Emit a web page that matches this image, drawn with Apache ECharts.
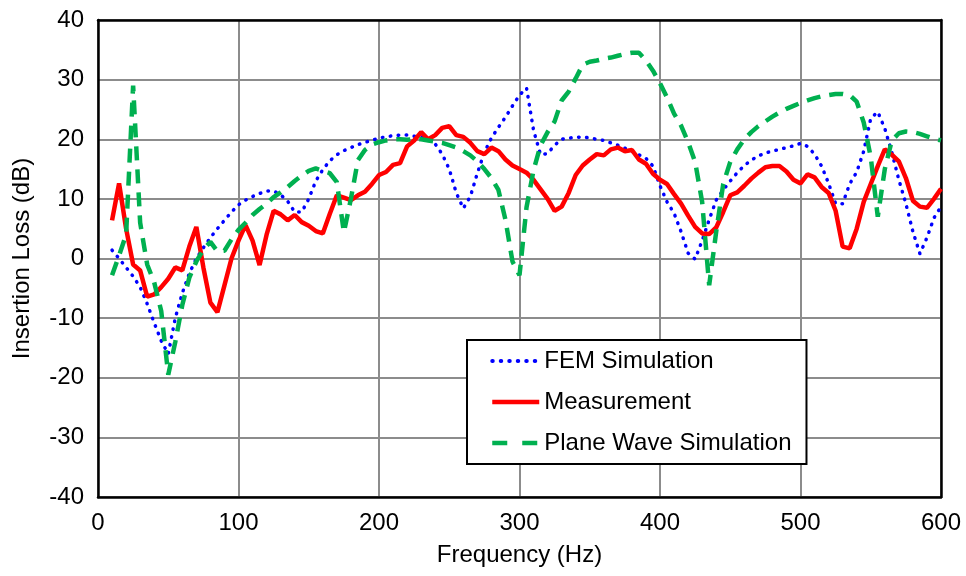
<!DOCTYPE html>
<html>
<head>
<meta charset="utf-8">
<script src="https://cdn.jsdelivr.net/npm/echarts@6/dist/echarts.min.js"></script>
<style>
  html, body { margin: 0; padding: 0; background: #fff; }
  #chart { width: 966px; height: 576px; }
</style>
</head>
<body>
<div id="chart"></div>
<script>
// frequency points (Hz)
var freqs = [10, 15, 20, 25, 30, 35, 40, 45, 50, 55,
    60, 65, 70, 75, 80, 85, 90, 95, 100, 105,
    110, 115, 120, 125, 130, 135, 140, 145, 150, 155,
    160, 165, 170, 175, 180, 185, 190, 195, 200, 205,
    210, 215, 220, 225, 230, 235, 240, 245, 250, 255,
    260, 265, 270, 275, 280, 285, 290, 295, 300, 305,
    310, 315, 320, 325, 330, 335, 340, 345, 350, 355,
    360, 365, 370, 375, 380, 385, 390, 395, 400, 405,
    410, 415, 420, 425, 430, 435, 440, 445, 450, 455,
    460, 465, 470, 475, 480, 485, 490, 495, 500, 505,
    510, 515, 520, 525, 530, 535, 540, 545, 550, 555,
    560, 565, 570, 575, 580, 585, 590, 595, 600];

// FEM simulation (dB)
var femData = [1.4, 0, -1.5, -3, -4.8, -7.6, -10.8, -13.8, -16, -10,
    -5.8, -2.5, 0, 1.8, 3.5, 5, 6.4, 7.8, 9, 9.8,
    10.4, 10.9, 11.3, 11.3, 10.7, 9.6, 7.8, 7.8, 10, 13,
    14.9, 16.4, 17.4, 18.1, 18.6, 19.1, 19.5, 19.8, 20.2, 20.4,
    20.6, 20.7, 20.7, 20.5, 20.4, 20.1, 19.2, 17.5, 15, 11,
    8.4, 10.4, 14.3, 17.8, 20.2, 22, 23.7, 25.6, 27.4, 28.6,
    21.5, 17.4, 17.6, 19, 20, 20.2, 20.3, 20.4, 20.2, 20,
    19.8, 19.4, 19, 18.5, 18, 17.4, 16.8, 15.5, 12.2, 9.5,
    7.6, 4.5, 0.9, -0.1, 3, 6.5, 9.8, 11.5, 13, 14.4,
    15.6, 16.5, 17.2, 17.7, 18, 18.3, 18.6, 18.9, 19.3, 18.8,
    17.5, 15.5, 12.6, 9.2, 9.2, 12.5, 14.5, 18, 23.5, 24.6,
    21.8, 17.8, 13.2, 9.2, 4.5, 0.8, 3.5, 6.8, 8.7];

// measurement (dB)
var measData = [6.4, 12.6, 5, -1, -2, -6.4, -6, -4.8, -3.4, -1.5,
    -2, 2, 5.3, -1.5, -7.4, -9, -4.5, 0, 3, 5.6,
    3, -1.1, 4, 8, 7.4, 6.4, 7.3, 6.1, 5.5, 4.6,
    4.2, 7.5, 10.6, 10.2, 9.8, 10.6, 11.2, 12.5, 14, 14.5,
    15.7, 16, 18.8, 19.8, 21.2, 20, 20.7, 21.9, 22.2, 20.7,
    20.4, 19.4, 18, 17.5, 18.6, 18, 16.6, 15.6, 15, 14.4,
    13.2, 11.6, 10, 8, 8.7, 11, 14, 15.6, 16.6, 17.5,
    17.3, 18.3, 18.6, 18, 18.2, 16.6, 15.9, 14.2, 13.2, 12.5,
    10.8, 9.2, 7.2, 5.3, 4.2, 4.1, 5.2, 7.8, 10.6, 11.1,
    12.2, 13.4, 14.4, 15.3, 15.5, 15.5, 14.6, 13.2, 12.6, 14.1,
    13.6, 12, 11, 8, 2, 1.7, 5, 9.5, 12.5, 15.5,
    18.3, 17.4, 16.3, 13.5, 9.7, 8.7, 8.5, 10, 11.7];

// plane wave simulation (dB)
var pwData = [-2.8, 0.5, 4, 29, 6, -1, -4, -8.8, -19.5, -14,
    -7.8, -3.2, -0.5, 1.5, 2.8, 1.2, 1.3, 3.2, 4.8, 6,
    7.3, 8.3, 9.2, 10.3, 11.1, 12, 13, 13.9, 14.7, 15.1,
    14.7, 14.3, 12.8, 4.4, 10, 16.5, 18.2, 19.1, 19.5, 19.8,
    20, 20, 19.9, 20, 20, 19.8, 19.6, 19.4, 19, 18.6,
    18, 17.3, 16.3, 15, 13.5, 11.5, 6.5, -0.5, -2.8, 8.6,
    14.8, 19, 21.2, 23, 26.5, 28, 30.2, 32.5, 33, 33.2,
    33.5, 33.7, 34, 34.3, 34.5, 34.5, 33.2, 31.5, 29.4, 27,
    24.3, 22.3, 19.5, 16.2, 9.5, -4.5, 4.5, 12.5, 16.2, 18.3,
    20, 21.2, 22.2, 23, 23.8, 24.5, 25.1, 25.6, 26.1, 26.5,
    26.9, 27.2, 27.4, 27.6, 27.6, 27.4, 26.3, 22.8, 17, 7,
    15, 19.8, 21, 21.3, 21.2, 20.9, 20.5, 20.1, 19.8];

var seriesNames = ['FEM Simulation', 'Measurement', 'Plane Wave Simulation'];

function pairs(xs, ys) {
    var out = [];
    for (var i = 0; i < xs.length; i++) {
        out.push([xs[i], ys[i]]);
    }
    return out;
}

var font = "'Liberation Sans', Arial, sans-serif";
var labelStyle = { margin: 14, fontFamily: font, fontSize: 24, color: '#000' };
var gridLine = { show: true, lineStyle: { color: '#8c8c8c', width: 2 } };
var blackLine = { show: true, onZero: false, lineStyle: { color: '#000', width: 2.5 } };

var chart = echarts.init(document.getElementById('chart'));
var option = {
    animation: false,
    grid: {
        left: 98,
        right: 25,
        top: 20,
        bottom: 79
    },
    legend: {
        orient: 'vertical',
        left: 467,
        top: 340,
        padding: [9, 15, 9, 23],
        itemWidth: 47,
        itemHeight: 14,
        itemGap: 17,
        backgroundColor: '#fff',
        borderColor: '#000',
        borderWidth: 2,
        borderRadius: 0,
        itemStyle: { opacity: 0 },
        textStyle: {
            fontFamily: font,
            fontSize: 24,
            lineHeight: 24,
            color: '#000'
        },
        data: [
            { name: seriesNames[0], lineStyle: { width: 4, type: [0.5, 8], cap: 'round' } },
            { name: seriesNames[1], lineStyle: { width: 4.5 } },
            { name: seriesNames[2], lineStyle: { width: 4.5, type: [15, 15] } }
        ]
    },
    xAxis: [{
        type: 'value',
        min: 0,
        max: 600,
        interval: 100,
        name: 'Frequency (Hz)',
        nameLocation: 'middle',
        nameGap: 46,
        nameTextStyle: { fontFamily: font, fontSize: 24, color: '#000' },
        axisLine: blackLine,
        axisTick: { show: false },
        axisLabel: labelStyle,
        splitLine: gridLine
    }, {
        // top frame
        type: 'value',
        position: 'top',
        min: 0,
        max: 600,
        axisLine: blackLine,
        axisTick: { show: false },
        axisLabel: { show: false },
        splitLine: { show: false }
    }],
    yAxis: [{
        type: 'value',
        min: -40,
        max: 40,
        interval: 10,
        name: 'Insertion Loss (dB)',
        nameLocation: 'middle',
        nameGap: 64,
        nameTextStyle: { fontFamily: font, fontSize: 24, color: '#000' },
        axisLine: blackLine,
        axisTick: { show: false },
        axisLabel: labelStyle,
        splitLine: gridLine
    }, {
        // right frame
        type: 'value',
        position: 'right',
        min: -40,
        max: 40,
        axisLine: blackLine,
        axisTick: { show: false },
        axisLabel: { show: false },
        splitLine: { show: false }
    }],
    series: [{
        name: seriesNames[0],
        type: 'line',
        symbol: 'none',
        color: '#0000ff',
        lineStyle: { color: '#0000ff', width: 3.5, type: [0.5, 7.5], cap: 'round' },
        data: pairs(freqs, femData)
    }, {
        name: seriesNames[1],
        type: 'line',
        symbol: 'none',
        color: '#ff0000',
        lineStyle: { color: '#ff0000', width: 4.5 },
        data: pairs(freqs, measData)
    }, {
        name: seriesNames[2],
        type: 'line',
        symbol: 'none',
        color: '#00b050',
        lineStyle: { color: '#00b050', width: 4.5, type: [14, 9] },
        data: pairs(freqs, pwData)
    }]
};
chart.setOption(option);
</script>
</body>
</html>
